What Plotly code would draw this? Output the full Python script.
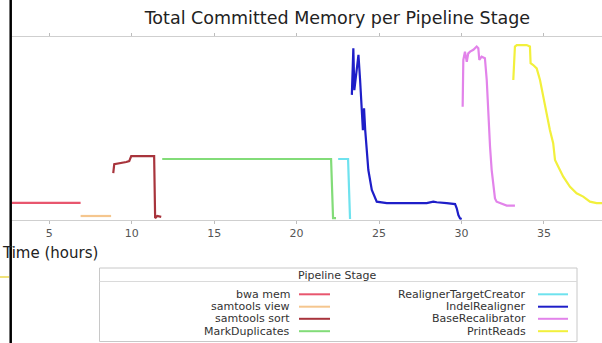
import plotly.graph_objects as go

# ---------------- data ----------------
stage_names = ["bwa mem", "samtools view", "samtools sort", "MarkDuplicates",
               "RealignerTargetCreator", "IndelRealigner", "BaseRecalibrator", "PrintReads"]
stage_colors = ["#e8566e", "#f5c68e", "#a8343c", "#82dc78",
                "#6ee2ee", "#1e1ec8", "#e283ea", "#f2f03c"]

bwa_t = [0.0, 6.9]
bwa_v = [5.4, 5.4]

view_t = [6.9, 8.75]
view_v = [1.0, 1.0]

sort_t = [8.88, 8.94, 9.67, 9.85, 9.97, 11.36, 11.42, 11.55, 11.79]
sort_v = [15.4, 18.4, 19.1, 19.4, 21.1, 21.1, 0.3, 1.0, 0.7]

md_t = [11.85, 22.09, 22.21, 22.39]
md_v = [20.1, 20.1, 0.3, 0.3]

rtc_t = [22.52, 23.12, 23.24]
rtc_v = [20.1, 20.1, 0.0]

ir_t = [23.35, 23.44, 23.50, 23.75, 23.85, 23.96, 24.02, 24.09, 24.16, 24.35, 24.56, 24.86,
        25.47, 26.27, 27.89, 28.29, 28.50, 29.10, 29.61, 29.71, 29.81, 29.91, 30.01]
ir_v = [41.6, 57.2, 43.2, 55.0, 46.6, 35.4, 29.8, 37.1, 29.8, 16.4, 9.7, 5.8,
        5.3, 5.3, 5.3, 5.8, 5.6, 5.3, 5.0, 3.6, 1.3, 0.2, 0.0]

br_t = [30.07, 30.11, 30.21, 30.32, 30.41, 30.52, 30.72, 30.92, 31.02, 31.08, 31.22,
        31.42, 31.53, 31.62, 31.73, 31.83, 31.93, 32.03, 32.13, 32.33, 32.74, 33.24]
br_v = [37.6, 53.3, 56.1, 52.7, 55.5, 56.1, 56.7, 57.8, 57.2, 53.3, 54.4,
        53.9, 46.6, 35.4, 24.2, 16.4, 10.8, 6.9, 5.8, 5.3, 4.5, 4.5]

pr_t = [33.14, 33.24, 33.35, 33.55, 33.95, 34.15, 34.19, 34.35, 34.56, 34.76, 34.96, 35.16,
        35.36, 35.56, 35.67, 35.87, 36.17, 36.58, 36.98, 37.38, 37.79, 38.19, 38.51, 39.0]
pr_v = [46.6, 57.8, 58.3, 58.3, 58.3, 57.8, 52.2, 51.6, 50.5, 46.6, 41.0, 34.2,
        29.8, 25.4, 19.8, 17.5, 14.2, 10.8, 8.6, 7.5, 5.8, 5.3, 5.3, 5.0]

x_ticks = [5, 10, 15, 20, 25, 30, 35]
x_tick_labels = ["5", "10", "15", "20", "25", "30", "35"]

series_t = [bwa_t, view_t, sort_t, md_t, rtc_t, ir_t, br_t, pr_t]
series_v = [bwa_v, view_v, sort_v, md_v, rtc_v, ir_v, br_v, pr_v]

# ---------------- layout geometry ----------------
W, H = 602, 343
L, R, T, B = 12, 0, 37, 123
PW, PH = W - L - R, H - T - B
FONT = "DejaVu Sans"


def fx(px):
    return (px - L) / PW


def fy(py):
    return (H - B - py) / PH


fig = go.Figure()
for name, color, t, v in zip(stage_names, stage_colors, series_t, series_v):
    fig.add_trace(go.Scatter(x=t, y=v, mode="lines", name=name, showlegend=False,
                             line=dict(color=color, width=2.2)))

shapes = []
annotations = []

# legend box
shapes.append(dict(type="rect", xref="paper", yref="paper", x0=fx(99.5), x1=fx(577),
                   y0=fy(341.5), y1=fy(268), line=dict(color="#c8c8c8", width=1),
                   fillcolor="white", layer="above"))
shapes.append(dict(type="line", xref="paper", yref="paper", x0=fx(99.5), x1=fx(577),
                   y0=fy(281.5), y1=fy(281.5), line=dict(color="#dadada", width=1)))
annotations.append(dict(text="Pipeline Stage", xref="paper", yref="paper", x=fx(338), y=fy(275.5),
                        xanchor="center", yanchor="middle", showarrow=False,
                        font=dict(family=FONT, size=11, color="#333333")))
rows = [294.3, 306.7, 318.8, 331.2]
cols = [(292, 299, 330), (528, 538, 568)]
for i, (name, color) in enumerate(zip(stage_names, stage_colors)):
    tx, l0, l1 = cols[i // 4]
    ry = rows[i % 4]
    annotations.append(dict(text=name, xref="paper", yref="paper", x=fx(tx), y=fy(ry),
                            xanchor="right", yanchor="middle", showarrow=False,
                            font=dict(family=FONT, size=11, color="#333333")))
    shapes.append(dict(type="line", xref="paper", yref="paper", x0=fx(l0), x1=fx(l1),
                       y0=fy(ry), y1=fy(ry), line=dict(color=color, width=2), layer="above"))

# axis title
annotations.append(dict(text="Time (hours)", xref="paper", yref="paper", x=fx(0), y=fy(253),
                        xanchor="left", yanchor="middle", showarrow=False,
                        font=dict(family=FONT, size=15, color="#222222")))

# black frame edge on the left and small yellow mark
shapes.append(dict(type="line", xref="paper", yref="paper", x0=fx(10.7), x1=fx(10.7),
                   y0=fy(H + 2), y1=fy(-2), line=dict(color="black", width=2.5), layer="above"))
shapes.append(dict(type="line", xref="paper", yref="paper", x0=fx(0), x1=fx(9),
                   y0=fy(277), y1=fy(277), line=dict(color="#f0e27a", width=2)))

fig.update_layout(
    width=W, height=H,
    margin=dict(l=L, r=R, t=T, b=B),
    paper_bgcolor="white", plot_bgcolor="white",
    title=dict(text="Total Committed Memory per Pipeline Stage", xref="container", yref="container",
               x=337.4 / W, y=1 - 18 / H, xanchor="center", yanchor="middle",
               font=dict(family=FONT, size=17.5, color="#222222")),
    xaxis=dict(range=[2.74, 38.52], tickvals=x_ticks, ticktext=x_tick_labels,
               showline=True, linecolor="#cfcfcf", linewidth=1, mirror="ticks",
               ticks="outside", ticklen=3, tickcolor="#bdbdbd",
               tickfont=dict(family=FONT, size=11, color="#555555"),
               showgrid=False, zeroline=False),
    yaxis=dict(range=[-0.34, 61.0], visible=False, showgrid=False, zeroline=False),
    shapes=shapes, annotations=annotations,
)

fig.write_html("out.html", config={"displayModeBar": False},
               post_script="document.body.style.margin='0';document.body.style.overflow='hidden';")
